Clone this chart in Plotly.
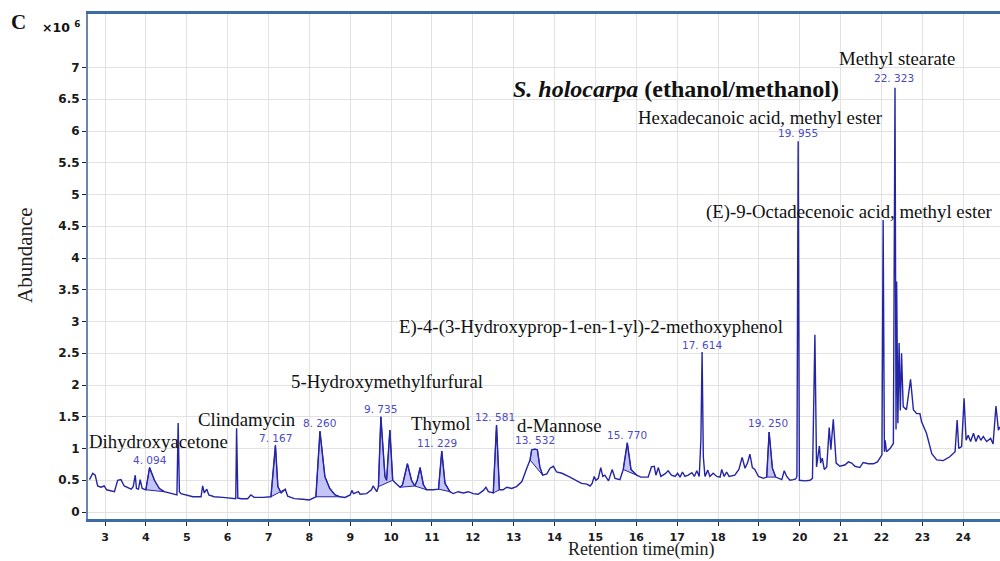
import numpy as np
import plotly.graph_objects as go

# Retention time (min) and abundance (x10^6)
rt = [2.62, 2.70, 2.76, 2.82, 2.90, 2.98, 3.04, 3.15, 3.23, 3.31, 3.39, 3.47, 3.56, 3.64, 3.69, 3.74, 3.77, 3.82, 3.86, 3.91,
      4.00, 4.09, 4.21, 4.33, 4.45, 4.57, 4.70, 4.76, 4.79, 4.82, 4.86, 4.98, 5.15, 5.35, 5.39, 5.43, 5.49, 5.54, 5.67, 5.88,
      6.12, 6.20, 6.22, 6.25, 6.33, 6.49, 6.57, 6.65, 6.86, 7.06, 7.17, 7.23, 7.31, 7.41, 7.47, 7.63, 7.84, 8.00, 8.16, 8.26,
      8.38, 8.50, 8.63, 8.75, 8.87, 9.00, 9.04, 9.08, 9.20, 9.24, 9.40, 9.52, 9.56, 9.65, 9.69, 9.75, 9.85, 9.89, 9.97, 10.04,
      10.12, 10.22, 10.28, 10.40, 10.50, 10.58, 10.64, 10.71, 10.79, 10.87, 11.03, 11.16, 11.24, 11.32, 11.44, 11.52, 11.64,
      11.77, 11.89, 12.01, 12.13, 12.26, 12.32, 12.38, 12.50, 12.58, 12.65, 12.74, 12.83, 12.95, 13.07, 13.20, 13.32, 13.40,
      13.44, 13.52, 13.58, 13.64, 13.71, 13.81, 13.89, 13.97, 14.05, 14.18, 14.34, 14.50, 14.66, 14.79, 14.87, 14.92, 14.97,
      15.01, 15.07, 15.13, 15.18, 15.23, 15.32, 15.41, 15.48, 15.60, 15.68, 15.78, 15.87, 16.01, 16.11, 16.29, 16.37, 16.44,
      16.48, 16.54, 16.60, 16.70, 16.78, 16.86, 16.95, 17.01, 17.07, 17.13, 17.19, 17.27, 17.36, 17.42, 17.48, 17.54, 17.58,
      17.61, 17.64, 17.68, 17.75, 17.80, 17.88, 17.97, 18.05, 18.09, 18.15, 18.21, 18.27, 18.41, 18.51, 18.59, 18.66, 18.72,
      18.78, 18.84, 18.90, 18.99, 19.11, 19.19, 19.25, 19.33, 19.41, 19.56, 19.62, 19.68, 19.76, 19.84, 19.90, 19.93, 19.96,
      19.99, 20.13, 20.25, 20.31, 20.37, 20.41, 20.48, 20.51, 20.55, 20.60, 20.66, 20.72, 20.76, 20.82, 20.89, 20.98, 21.10,
      21.19, 21.27, 21.35, 21.47, 21.55, 21.68, 21.80, 21.90, 21.98, 22.01, 22.04, 22.07, 22.09, 22.12, 22.21, 22.29, 22.33,
      22.355, 22.37, 22.40, 22.43, 22.46, 22.49, 22.53, 22.61, 22.71, 22.78, 22.86, 22.94, 22.98, 23.10, 23.23, 23.35, 23.51,
      23.67, 23.80, 23.85, 23.89, 23.96, 24.02, 24.07, 24.12, 24.18, 24.25, 24.31, 24.37, 24.43, 24.49, 24.57, 24.67, 24.73,
      24.80, 24.86, 24.90]
abundance = [0.51, 0.61, 0.58, 0.41, 0.39, 0.41, 0.35, 0.33, 0.32, 0.50, 0.51, 0.41, 0.39, 0.36, 0.40, 0.58, 0.37, 0.36, 0.51, 0.37,
             0.35, 0.70, 0.50, 0.37, 0.32, 0.30, 0.27, 0.27, 1.40, 0.32, 0.29, 0.27, 0.24, 0.24, 0.41, 0.30, 0.36, 0.27, 0.24, 0.23,
             0.21, 0.21, 1.32, 0.22, 0.21, 0.21, 0.27, 0.23, 0.23, 0.24, 1.05, 0.40, 0.30, 0.36, 0.25, 0.21, 0.20, 0.19, 0.24, 1.27,
             0.56, 0.37, 0.27, 0.24, 0.23, 0.27, 0.34, 0.29, 0.32, 0.28, 0.29, 0.35, 0.41, 0.32, 0.40, 1.50, 0.56, 0.50, 1.29, 0.50,
             0.45, 0.39, 0.43, 0.76, 0.50, 0.41, 0.50, 0.70, 0.43, 0.35, 0.35, 0.36, 0.96, 0.45, 0.32, 0.29, 0.32,
             0.30, 0.32, 0.29, 0.28, 0.34, 0.39, 0.32, 0.30, 1.37, 0.35, 0.35, 0.39, 0.37, 0.40, 0.48, 0.69, 0.82,
             0.98, 0.99, 0.98, 0.71, 0.58, 0.60, 0.69, 0.72, 0.63, 0.61, 0.56, 0.50, 0.45, 0.44, 0.41, 0.45, 0.56,
             0.50, 0.53, 0.70, 0.56, 0.58, 0.49, 0.67, 0.53, 0.51, 0.67, 1.09, 0.67, 0.58, 0.55, 0.55, 0.71, 0.72,
             0.58, 0.70, 0.56, 0.60, 0.65, 0.58, 0.56, 0.61, 0.55, 0.63, 0.56, 0.58, 0.62, 0.56, 0.65, 0.56, 1.13,
             2.52, 0.87, 0.56, 0.66, 0.56, 0.61, 0.56, 0.55, 0.67, 0.56, 0.63, 0.56, 0.58, 0.67, 0.86, 0.69, 0.77,
             0.91, 0.70, 0.67, 0.56, 0.53, 0.55, 1.26, 0.69, 0.55, 0.51, 0.65, 0.56, 0.50, 0.51, 0.52, 0.56, 5.84,
             0.50, 0.49, 0.50, 0.53, 2.79, 0.71, 1.04, 0.77, 0.85, 0.67, 0.71, 1.33, 0.98, 1.46, 0.77, 0.72, 0.74,
             0.79, 0.77, 0.72, 0.70, 0.78, 0.76, 0.76, 0.79, 0.86, 0.90, 4.60, 0.95, 1.13, 0.95, 1.00, 1.08, 6.68,
             1.30, 3.63, 1.40, 2.66, 1.60, 2.50, 1.66, 1.61, 2.09, 1.61, 1.55, 1.55, 1.42, 1.24, 0.92, 0.82, 0.81,
             0.87, 0.95, 1.45, 1.00, 1.03, 1.79, 1.13, 1.21, 1.11, 1.24, 1.11, 1.21, 1.13, 1.19, 1.11, 1.16, 1.07,
             1.67, 1.29, 1.34]

# Integrated peak windows (start, end) in minutes
peak_windows = [(4.00, 4.45), (7.06, 7.41), (8.16, 8.75), (9.69, 10.04), (10.22, 10.58), (10.58, 10.87),
                (11.16, 11.44), (12.50, 12.65), (13.40, 13.71), (15.68, 16.01), (19.19, 19.41)]

# Peak retention-time labels: text, x, y
rt_labels = ["4. 094", "7. 167", "8. 260", "9. 735", "11. 229", "12. 581", "13. 532", "15. 770", "17. 614",
             "19. 250", "19. 955", "22. 323"]
rt_label_x = [4.11, 7.16, 8.24, 9.75, 11.12, 12.54, 13.52, 15.77, 17.61, 19.22, 19.96, 22.31]
rt_label_y = [0.82, 1.17, 1.40, 1.63, 1.09, 1.50, 1.13, 1.21, 2.63, 1.40, 5.97, 6.83]

# Compound names: text, x, y
compounds = ["Dihydroxyacetone", "Clindamycin", "5-Hydroxymethylfurfural", "Thymol", "d-Mannose",
             "E)-4-(3-Hydroxyprop-1-en-1-yl)-2-methoxyphenol", "Hexadecanoic acid, methyl ester",
             "Methyl stearate", "(E)-9-Octadecenoic acid, methyl ester"]
compound_x = [4.32, 6.47, 9.90, 11.20, 14.13, 14.89, 19.03, 22.38, 21.20]
compound_y = [1.11, 1.45, 2.05, 1.39, 1.37, 2.91, 6.22, 7.14, 4.73]

y_ticks = [0, 0.5, 1, 1.5, 2, 2.5, 3, 3.5, 4, 4.5, 5, 5.5, 6, 6.5, 7]
x_ticks = list(range(3, 26))

LINE = "#2424a6"
FILL = "rgba(125,125,235,0.45)"

rt_a = np.array(rt)
ab_a = np.array(abundance)

fig = go.Figure()
for (s, e) in peak_windows:
    m = (rt_a >= s - 1e-9) & (rt_a <= e + 1e-9)
    xs = list(rt_a[m]) + [rt_a[m][0]]
    ys = list(ab_a[m]) + [ab_a[m][0]]
    fig.add_trace(go.Scatter(x=xs, y=ys, mode="lines", fill="toself", fillcolor=FILL,
                             line=dict(color=LINE, width=1), hoverinfo="skip", showlegend=False))

fig.add_trace(go.Scatter(x=rt, y=abundance, mode="lines", line=dict(color=LINE, width=1.4),
                         showlegend=False))

annotations = []
for t, x, y in zip(rt_labels, rt_label_x, rt_label_y):
    annotations.append(dict(x=x, y=y, xref="x", yref="y", text=t, showarrow=False,
                            font=dict(family="DejaVu Sans", size=10.5, color="#4a4ac8")))
for t, x, y in zip(compounds, compound_x, compound_y):
    annotations.append(dict(x=x, y=y, xref="x", yref="y", text=t, showarrow=False,
                            font=dict(family="Liberation Serif", size=18.8, color="#111111")))

annotations.append(dict(x=16.97, y=6.66, xref="x", yref="y",
                        text="<b><i>S. holocarpa</i> (ethanol/methanol)</b>", showarrow=False,
                        font=dict(family="Liberation Serif", size=24, color="#111111")))
annotations.append(dict(x=18 / 1000, y=1 - 22 / 561, xref="paper", yref="paper", xanchor="center", yanchor="middle",
                        text="<b>C</b>", showarrow=False,
                        font=dict(family="Liberation Serif", size=21, color="#111111")))
annotations.append(dict(x=61 / 1000, y=1 - 27 / 561, xref="paper", yref="paper", xanchor="center", yanchor="middle",
                        text="<b>×10 <sup>6</sup></b>", showarrow=False,
                        font=dict(family="DejaVu Sans", size=12.5, color="#111111")))
annotations.append(dict(x=25 / 1000, y=1 - 255 / 561, xref="paper", yref="paper", xanchor="center", yanchor="middle",
                        text="Abundance", textangle=-90, showarrow=False,
                        font=dict(family="Liberation Serif", size=21, color="#222222")))
annotations.append(dict(x=641 / 1000, y=0.0, xref="paper", yref="paper", xanchor="center", yanchor="bottom",
                        text="Retention time(min)", showarrow=False, borderpad=0,
                        font=dict(family="Liberation Serif", size=18, color="#222222")))

# convert paper-fraction (of whole figure) to plot-paper coords
W, H = 1000, 561
ml, mr, mt, mb = 88, 0, 14, 42
pw, ph = W - ml - mr, H - mt - mb
for a in annotations:
    if a.get("xref") == "paper":
        a["x"] = (a["x"] * W - ml) / pw
        a["y"] = (a["y"] * H - mb) / ph

fig.update_layout(
    width=W, height=H,
    margin=dict(l=ml, r=mr, t=mt, b=mb, pad=0),
    paper_bgcolor="white", plot_bgcolor="white",
    annotations=annotations,
    xaxis=dict(range=[2.584, 24.899], tickvals=x_ticks, ticktext=[str(v) for v in x_ticks],
               showgrid=True, gridcolor="#e2e2e2", gridwidth=1, zeroline=False,
               showline=True, linecolor="#3d6aa8", linewidth=3, mirror=True,
               ticks="outside", ticklen=4, tickcolor="#222", tickwidth=1, ticklabelstandoff=2,
               tickfont=dict(family="DejaVu Sans", size=11, color="#1a1a1a", weight="bold")),
    yaxis=dict(range=[-0.110, 7.843], tickvals=y_ticks, ticktext=[str(v) for v in y_ticks],
               showgrid=True, gridcolor="#e2e2e2", gridwidth=1, zeroline=False,
               showline=True, linecolor="#6a86b0", linewidth=2,
               ticks="outside", ticklen=4, tickcolor="#222", tickwidth=1,
               tickfont=dict(family="DejaVu Sans", size=12, color="#1a1a1a", weight="bold")),
)

fig.write_html("out.html")
